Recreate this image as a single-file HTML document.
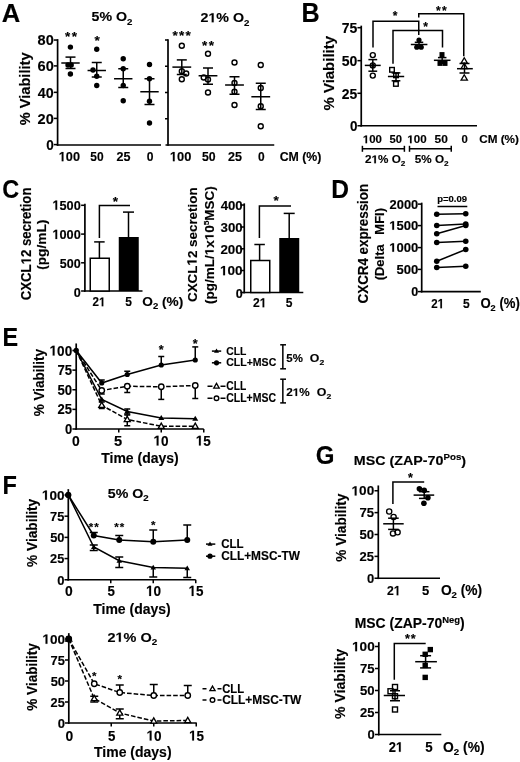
<!DOCTYPE html>
<html><head><meta charset="utf-8"><style>
html,body{margin:0;padding:0;background:#fff;overflow:hidden;}
svg{display:block;will-change:transform;}
text{font-family:"Liberation Sans",sans-serif;font-weight:bold;fill:#000;stroke:#000;stroke-width:0.15px;}
.h{fill-opacity:0;stroke-opacity:0;}
.g1{fill:#000;stroke:#000;}
</style></head><body>
<svg width="520" height="762" viewBox="0 0 520 762" stroke="#000">
<defs><filter id="bl" x="0" y="0" width="1" height="1"><feGaussianBlur stdDeviation="0.3"/></filter></defs>
<g filter="url(#bl)">
<rect width="520" height="762" fill="#fff" stroke="none"/>
<text transform="translate(1.71 21.55) scale(0.9854 1)" font-size="26.02">A</text>
<text transform="translate(91.61 21.45) scale(1.1099 1)" font-size="12.79">5% O<tspan font-size="8.70" dy="3.5">2</tspan></text>
<g transform="translate(200.46 22.35) scale(1.0663 1)"><text font-size="13.37">2<tspan class="h">1</tspan>% O<tspan font-size="9.09" dy="3.5">2</tspan></text><path class="g1" transform="translate(7.44 0) scale(0.00653 -0.00653)" stroke-width="23.0" d="M478 0L478 1170L140 959L140 1180L493 1409L759 1409L759 0Z"/></g>
<text transform="translate(29.80 125.21) rotate(-90) scale(0.9868 1)" font-size="14.80">% Viability</text>
<line x1="57.60" y1="39.15" x2="57.60" y2="145.85" stroke-width="1.7"/>
<line x1="53.80" y1="40.05" x2="57.60" y2="40.05" stroke-width="1.53"/>
<line x1="53.80" y1="65.90" x2="57.60" y2="65.90" stroke-width="1.53"/>
<line x1="53.80" y1="92.35" x2="57.60" y2="92.35" stroke-width="1.53"/>
<line x1="53.80" y1="118.40" x2="57.60" y2="118.40" stroke-width="1.53"/>
<line x1="53.80" y1="144.60" x2="57.60" y2="144.60" stroke-width="1.53"/>
<text transform="translate(37.59 45.35) scale(0.9435 1)" font-size="15.40">80</text>
<text transform="translate(37.52 71.15) scale(0.9479 1)" font-size="15.40">60</text>
<text transform="translate(37.83 97.65) scale(0.9287 1)" font-size="15.40">40</text>
<text transform="translate(37.55 123.55) scale(0.9462 1)" font-size="15.40">20</text>
<text transform="translate(46.16 150.05) scale(0.8809 1)" font-size="15.40">0</text>
<line x1="56.75" y1="145.00" x2="161.00" y2="145.00" stroke-width="1.7"/>
<g transform="translate(58.75 161.15) scale(0.9581 1)"><text font-size="13.28"><tspan class="h">1</tspan>00</text><path class="g1" transform="translate(0.00 0) scale(0.00648 -0.00648)" stroke-width="23.1" d="M478 0L478 1170L140 959L140 1180L493 1409L759 1409L759 0Z"/></g>
<text transform="translate(90.28 161.15) scale(0.9012 1)" font-size="13.28">50</text>
<text transform="translate(116.61 161.15) scale(0.9470 1)" font-size="13.28">25</text>
<text transform="translate(146.87 161.15) scale(0.9106 1)" font-size="13.28">0</text>
<g transform="translate(169.89 161.15) scale(0.9701 1)"><text font-size="13.28"><tspan class="h">1</tspan>00</text><path class="g1" transform="translate(0.00 0) scale(0.00648 -0.00648)" stroke-width="23.1" d="M478 0L478 1170L140 959L140 1180L493 1409L759 1409L759 0Z"/></g>
<text transform="translate(201.97 161.15) scale(0.9265 1)" font-size="13.28">50</text>
<text transform="translate(227.96 161.15) scale(0.9470 1)" font-size="13.28">25</text>
<text transform="translate(257.93 161.15) scale(0.9027 1)" font-size="13.28">0</text>
<text transform="translate(279.64 161.10) scale(0.9596 1)" font-size="12.86">CM (%)</text>
<circle cx="70.40" cy="47.10" r="2.7" fill="#000" stroke="none"/>
<circle cx="68.00" cy="65.00" r="2.7" fill="#000" stroke="none"/>
<circle cx="71.20" cy="65.00" r="2.7" fill="#000" stroke="none"/>
<circle cx="70.40" cy="74.00" r="2.7" fill="#000" stroke="none"/>
<line x1="61.30" y1="63.00" x2="79.70" y2="63.00" stroke-width="1.5"/>
<line x1="70.50" y1="57.10" x2="70.50" y2="68.50" stroke-width="1.5"/>
<line x1="65.50" y1="57.10" x2="75.50" y2="57.10" stroke-width="1.5"/>
<line x1="65.50" y1="68.50" x2="75.50" y2="68.50" stroke-width="1.5"/>
<circle cx="96.75" cy="49.25" r="2.7" fill="#000" stroke="none"/>
<circle cx="93.00" cy="70.00" r="2.7" fill="#000" stroke="none"/>
<circle cx="96.75" cy="76.25" r="2.7" fill="#000" stroke="none"/>
<circle cx="96.75" cy="85.50" r="2.7" fill="#000" stroke="none"/>
<line x1="87.55" y1="70.50" x2="105.95" y2="70.50" stroke-width="1.5"/>
<line x1="96.75" y1="62.50" x2="96.75" y2="77.00" stroke-width="1.5"/>
<line x1="91.75" y1="62.50" x2="101.75" y2="62.50" stroke-width="1.5"/>
<line x1="91.75" y1="77.00" x2="101.75" y2="77.00" stroke-width="1.5"/>
<circle cx="123.25" cy="58.75" r="2.7" fill="#000" stroke="none"/>
<circle cx="123.25" cy="68.75" r="2.7" fill="#000" stroke="none"/>
<circle cx="123.25" cy="85.50" r="2.7" fill="#000" stroke="none"/>
<circle cx="123.25" cy="100.75" r="2.7" fill="#000" stroke="none"/>
<line x1="114.05" y1="78.75" x2="132.45" y2="78.75" stroke-width="1.5"/>
<line x1="123.25" y1="68.75" x2="123.25" y2="87.50" stroke-width="1.5"/>
<line x1="118.25" y1="68.75" x2="128.25" y2="68.75" stroke-width="1.5"/>
<line x1="118.25" y1="87.50" x2="128.25" y2="87.50" stroke-width="1.5"/>
<circle cx="149.50" cy="64.50" r="2.7" fill="#000" stroke="none"/>
<circle cx="149.50" cy="78.75" r="2.7" fill="#000" stroke="none"/>
<circle cx="149.50" cy="101.25" r="2.7" fill="#000" stroke="none"/>
<circle cx="149.50" cy="123.00" r="2.7" fill="#000" stroke="none"/>
<line x1="140.30" y1="91.75" x2="158.70" y2="91.75" stroke-width="1.5"/>
<line x1="149.50" y1="78.75" x2="149.50" y2="104.50" stroke-width="1.5"/>
<line x1="144.50" y1="78.75" x2="154.50" y2="78.75" stroke-width="1.5"/>
<line x1="144.50" y1="104.50" x2="154.50" y2="104.50" stroke-width="1.5"/>
<text x="65.11" y="41.09" font-size="13.5">*</text>
<text x="71.71" y="41.09" font-size="13.5">*</text>
<text x="94.61" y="45.49" font-size="13.5">*</text>
<line x1="168.00" y1="39.15" x2="168.00" y2="145.85" stroke-width="1.7"/>
<line x1="165.00" y1="40.00" x2="168.00" y2="40.00" stroke-width="1.53"/>
<line x1="165.00" y1="66.25" x2="168.00" y2="66.25" stroke-width="1.53"/>
<line x1="165.00" y1="92.50" x2="168.00" y2="92.50" stroke-width="1.53"/>
<line x1="165.00" y1="118.75" x2="168.00" y2="118.75" stroke-width="1.53"/>
<line x1="165.50" y1="145.00" x2="274.25" y2="145.00" stroke-width="1.7"/>
<circle cx="181.80" cy="45.70" r="2.5" fill="none" stroke-width="1.4"/>
<circle cx="181.80" cy="71.20" r="2.5" fill="none" stroke-width="1.4"/>
<circle cx="186.20" cy="73.50" r="2.5" fill="none" stroke-width="1.4"/>
<circle cx="181.80" cy="79.20" r="2.5" fill="none" stroke-width="1.4"/>
<line x1="172.40" y1="67.10" x2="191.20" y2="67.10" stroke-width="1.5"/>
<line x1="181.80" y1="59.90" x2="181.80" y2="74.50" stroke-width="1.5"/>
<line x1="176.80" y1="59.90" x2="186.80" y2="59.90" stroke-width="1.5"/>
<line x1="176.80" y1="74.50" x2="186.80" y2="74.50" stroke-width="1.5"/>
<circle cx="208.00" cy="53.75" r="2.5" fill="none" stroke-width="1.4"/>
<circle cx="203.75" cy="77.50" r="2.5" fill="none" stroke-width="1.4"/>
<circle cx="208.00" cy="79.50" r="2.5" fill="none" stroke-width="1.4"/>
<circle cx="208.00" cy="92.50" r="2.5" fill="none" stroke-width="1.4"/>
<line x1="198.60" y1="75.75" x2="217.40" y2="75.75" stroke-width="1.5"/>
<line x1="208.00" y1="68.00" x2="208.00" y2="84.25" stroke-width="1.5"/>
<line x1="203.00" y1="68.00" x2="213.00" y2="68.00" stroke-width="1.5"/>
<line x1="203.00" y1="84.25" x2="213.00" y2="84.25" stroke-width="1.5"/>
<circle cx="234.50" cy="62.50" r="2.5" fill="none" stroke-width="1.4"/>
<circle cx="234.50" cy="83.00" r="2.5" fill="none" stroke-width="1.4"/>
<circle cx="234.50" cy="91.75" r="2.5" fill="none" stroke-width="1.4"/>
<circle cx="234.50" cy="105.00" r="2.5" fill="none" stroke-width="1.4"/>
<line x1="225.10" y1="85.00" x2="243.90" y2="85.00" stroke-width="1.5"/>
<line x1="234.50" y1="76.75" x2="234.50" y2="94.25" stroke-width="1.5"/>
<line x1="229.50" y1="76.75" x2="239.50" y2="76.75" stroke-width="1.5"/>
<line x1="229.50" y1="94.25" x2="239.50" y2="94.25" stroke-width="1.5"/>
<circle cx="260.75" cy="65.00" r="2.5" fill="none" stroke-width="1.4"/>
<circle cx="260.75" cy="88.00" r="2.5" fill="none" stroke-width="1.4"/>
<circle cx="260.75" cy="106.25" r="2.5" fill="none" stroke-width="1.4"/>
<circle cx="260.75" cy="126.25" r="2.5" fill="none" stroke-width="1.4"/>
<line x1="251.35" y1="96.75" x2="270.15" y2="96.75" stroke-width="1.5"/>
<line x1="260.75" y1="83.25" x2="260.75" y2="109.50" stroke-width="1.5"/>
<line x1="255.75" y1="83.25" x2="265.75" y2="83.25" stroke-width="1.5"/>
<line x1="255.75" y1="109.50" x2="265.75" y2="109.50" stroke-width="1.5"/>
<text x="172.61" y="40.34" font-size="13.5">*</text>
<text x="179.06" y="40.34" font-size="13.5">*</text>
<text x="185.51" y="40.34" font-size="13.5">*</text>
<text x="202.06" y="50.34" font-size="13.5">*</text>
<text x="208.66" y="50.34" font-size="13.5">*</text>
<text transform="translate(301.52 21.55) scale(0.9411 1)" font-size="26.74">B</text>
<text transform="translate(334.30 110.52) rotate(-90) scale(1.0112 1)" font-size="14.80">% Viability</text>
<line x1="361.25" y1="25.65" x2="361.25" y2="126.60" stroke-width="1.7"/>
<line x1="357.45" y1="27.70" x2="361.25" y2="27.70" stroke-width="1.53"/>
<line x1="357.45" y1="60.65" x2="361.25" y2="60.65" stroke-width="1.53"/>
<line x1="357.45" y1="93.30" x2="361.25" y2="93.30" stroke-width="1.53"/>
<line x1="357.45" y1="125.75" x2="361.25" y2="125.75" stroke-width="1.53"/>
<text transform="translate(341.65 32.80) scale(0.9730 1)" font-size="14.41">75</text>
<text transform="translate(341.82 65.75) scale(0.9739 1)" font-size="14.41">50</text>
<text transform="translate(341.77 98.60) scale(0.9653 1)" font-size="14.41">25</text>
<text transform="translate(349.92 131.30) scale(0.9341 1)" font-size="14.41">0</text>
<line x1="360.40" y1="125.75" x2="477.00" y2="125.75" stroke-width="1.7"/>
<g transform="translate(362.83 143.15) scale(1.0254 1)"><text font-size="11.16"><tspan class="h">1</tspan>00</text><path class="g1" transform="translate(0.00 0) scale(0.00545 -0.00545)" stroke-width="27.5" d="M478 0L478 1170L140 959L140 1180L493 1409L759 1409L759 0Z"/></g>
<text transform="translate(389.60 143.15) scale(1.0077 1)" font-size="11.16">50</text>
<g transform="translate(407.32 143.15) scale(1.0369 1)"><text font-size="11.16"><tspan class="h">1</tspan>00</text><path class="g1" transform="translate(0.00 0) scale(0.00545 -0.00545)" stroke-width="27.5" d="M478 0L478 1170L140 959L140 1180L493 1409L759 1409L759 0Z"/></g>
<text transform="translate(434.58 143.15) scale(1.0680 1)" font-size="11.16">50</text>
<text transform="translate(461.50 143.15) scale(1.0176 1)" font-size="11.16">0</text>
<text transform="translate(479.17 143.15) scale(1.0221 1)" font-size="11.48">CM (%)</text>
<line x1="362.40" y1="148.70" x2="404.40" y2="148.70" stroke-width="1.5"/>
<line x1="362.40" y1="145.80" x2="362.40" y2="151.80" stroke-width="1.5"/>
<line x1="404.40" y1="145.80" x2="404.40" y2="151.80" stroke-width="1.5"/>
<line x1="409.50" y1="148.70" x2="451.25" y2="148.70" stroke-width="1.5"/>
<line x1="409.50" y1="145.80" x2="409.50" y2="151.80" stroke-width="1.5"/>
<line x1="451.25" y1="145.80" x2="451.25" y2="151.80" stroke-width="1.5"/>
<g transform="translate(365.04 163.35) scale(1.0192 1)"><text font-size="11.48">2<tspan class="h">1</tspan>% O<tspan font-size="8.04" dy="2.5">2</tspan></text><path class="g1" transform="translate(6.39 0) scale(0.00561 -0.00561)" stroke-width="26.8" d="M478 0L478 1170L140 959L140 1180L493 1409L759 1409L759 0Z"/></g>
<text transform="translate(414.79 163.35) scale(1.0211 1)" font-size="11.48">5% O<tspan font-size="8.04" dy="2.5">2</tspan></text>
<polyline points="373.00,47.50 373.00,21.25 418.75,21.25 418.75,35.00" fill="none" stroke-width="1.5"/>
<text x="392.65" y="19.65" font-size="12">*</text>
<polyline points="393.00,63.75 393.00,30.50 442.50,30.50 442.50,47.50" fill="none" stroke-width="1.5"/>
<text x="423.15" y="30.90" font-size="12">*</text>
<polyline points="418.75,17.50 418.75,13.75 463.75,13.75 463.75,56.25" fill="none" stroke-width="1.5"/>
<text x="435.90" y="14.65" font-size="12">*</text>
<text x="441.90" y="14.65" font-size="12">*</text>
<circle cx="372.80" cy="55.10" r="2.5" fill="none" stroke-width="1.4"/>
<circle cx="372.80" cy="65.40" r="2.5" fill="none" stroke-width="1.4"/>
<circle cx="372.80" cy="75.60" r="2.5" fill="none" stroke-width="1.4"/>
<circle cx="372.80" cy="65.40" r="1.6" fill="#000" stroke="none"/>
<line x1="364.80" y1="65.40" x2="380.70" y2="65.40" stroke-width="1.5"/>
<line x1="372.80" y1="59.60" x2="372.80" y2="71.20" stroke-width="1.5"/>
<line x1="368.40" y1="59.60" x2="377.20" y2="59.60" stroke-width="1.5"/>
<line x1="368.40" y1="71.20" x2="377.20" y2="71.20" stroke-width="1.5"/>
<rect x="389.70" y="67.50" width="4.6" height="4.6" fill="none" stroke-width="1.4"/>
<rect x="393.70" y="73.00" width="4.6" height="4.6" fill="none" stroke-width="1.4"/>
<rect x="393.60" y="81.60" width="4.6" height="4.6" fill="none" stroke-width="1.4"/>
<line x1="387.90" y1="76.50" x2="404.20" y2="76.50" stroke-width="1.5"/>
<line x1="396.00" y1="72.90" x2="396.00" y2="80.80" stroke-width="1.5"/>
<line x1="391.65" y1="72.90" x2="400.35" y2="72.90" stroke-width="1.5"/>
<line x1="391.65" y1="80.80" x2="400.35" y2="80.80" stroke-width="1.5"/>
<circle cx="419.00" cy="40.00" r="2.6" fill="#000" stroke="none"/>
<circle cx="416.80" cy="47.20" r="2.6" fill="#000" stroke="none"/>
<circle cx="421.20" cy="47.20" r="2.6" fill="#000" stroke="none"/>
<line x1="410.80" y1="44.50" x2="427.40" y2="44.50" stroke-width="1.5"/>
<line x1="419.00" y1="42.30" x2="419.00" y2="47.00" stroke-width="1.5"/>
<line x1="414.75" y1="42.30" x2="423.25" y2="42.30" stroke-width="1.5"/>
<line x1="414.75" y1="47.00" x2="423.25" y2="47.00" stroke-width="1.5"/>
<rect x="439.50" y="52.10" width="5.0" height="5.0" fill="#000" stroke="none"/>
<rect x="437.50" y="60.90" width="5.0" height="5.0" fill="#000" stroke="none"/>
<rect x="442.50" y="60.90" width="5.0" height="5.0" fill="#000" stroke="none"/>
<line x1="433.90" y1="60.30" x2="450.50" y2="60.30" stroke-width="1.5"/>
<line x1="442.20" y1="57.60" x2="442.20" y2="63.20" stroke-width="1.5"/>
<line x1="437.95" y1="57.60" x2="446.45" y2="57.60" stroke-width="1.5"/>
<line x1="437.95" y1="63.20" x2="446.45" y2="63.20" stroke-width="1.5"/>
<polygon points="464.25,57.73 467.40,63.18 461.10,63.18" fill="#fff" stroke-width="1.3"/>
<polygon points="464.25,63.23 467.40,68.68 461.10,68.68" fill="#fff" stroke-width="1.3"/>
<polygon points="464.25,74.73 467.40,80.18 461.10,80.18" fill="#fff" stroke-width="1.3"/>
<line x1="457.00" y1="68.70" x2="472.80" y2="68.70" stroke-width="1.5"/>
<line x1="464.50" y1="63.50" x2="464.50" y2="73.00" stroke-width="1.5"/>
<line x1="459.50" y1="63.50" x2="469.50" y2="63.50" stroke-width="1.5"/>
<line x1="459.50" y1="73.00" x2="469.50" y2="73.00" stroke-width="1.5"/>
<text transform="translate(2.29 197.55) scale(0.9286 1)" font-size="25.28">C</text>
<g transform="translate(30.90 300.29) rotate(-90) scale(0.9487 1)"><text font-size="13.90">CXCL<tspan class="h">1</tspan>2 secretion</text><path class="g1" transform="translate(37.84 0) scale(0.00679 -0.00679)" stroke-width="22.1" d="M478 0L478 1170L140 959L140 1180L493 1409L759 1409L759 0Z"/></g>
<text transform="translate(45.80 269.83) rotate(-90) scale(1.0389 1)" font-size="13.20">(pg/mL)</text>
<line x1="84.90" y1="203.75" x2="84.90" y2="291.85" stroke-width="1.7"/>
<line x1="81.10" y1="205.30" x2="84.90" y2="205.30" stroke-width="1.53"/>
<line x1="81.10" y1="234.10" x2="84.90" y2="234.10" stroke-width="1.53"/>
<line x1="81.10" y1="262.80" x2="84.90" y2="262.80" stroke-width="1.53"/>
<line x1="81.10" y1="291.00" x2="84.90" y2="291.00" stroke-width="1.53"/>
<g transform="translate(52.45 209.85) scale(0.9489 1)"><text font-size="13.42"><tspan class="h">1</tspan>500</text><path class="g1" transform="translate(0.00 0) scale(0.00655 -0.00655)" stroke-width="22.9" d="M478 0L478 1170L140 959L140 1180L493 1409L759 1409L759 0Z"/></g>
<g transform="translate(52.45 239.10) scale(0.9489 1)"><text font-size="13.42"><tspan class="h">1</tspan>000</text><path class="g1" transform="translate(0.00 0) scale(0.00655 -0.00655)" stroke-width="22.9" d="M478 0L478 1170L140 959L140 1180L493 1409L759 1409L759 0Z"/></g>
<text transform="translate(59.86 267.65) scale(0.9335 1)" font-size="13.42">500</text>
<text transform="translate(73.75 296.75) scale(0.9402 1)" font-size="13.42">0</text>
<line x1="84.00" y1="291.00" x2="142.50" y2="291.00" stroke-width="1.7"/>
<rect x="90.25" y="258.25" width="19" height="32.75" fill="#fff" stroke-width="1.5"/>
<rect x="118.75" y="237" width="20" height="54" fill="#000" stroke="none"/>
<line x1="99.40" y1="258.25" x2="99.40" y2="241.90" stroke-width="1.5"/>
<line x1="94.15" y1="241.90" x2="104.65" y2="241.90" stroke-width="1.5"/>
<line x1="128.50" y1="237.00" x2="128.50" y2="212.10" stroke-width="1.5"/>
<line x1="123.00" y1="212.10" x2="134.00" y2="212.10" stroke-width="1.5"/>
<polyline points="99.40,238.10 99.40,205.60 130.00,205.60" fill="none" stroke-width="1.5"/>
<text x="112.86" y="205.89" font-size="13.5">*</text>
<g transform="translate(92.55 306.25) scale(0.9245 1)"><text font-size="12.57">2<tspan class="h">1</tspan></text><path class="g1" transform="translate(6.99 0) scale(0.00614 -0.00614)" stroke-width="24.4" d="M478 0L478 1170L140 959L140 1180L493 1409L759 1409L759 0Z"/></g>
<text transform="translate(125.18 306.25) scale(0.9593 1)" font-size="12.57">5</text>
<text transform="translate(142.29 306.25) scale(1.0549 1)" font-size="12.94">O<tspan font-size="9.06" dy="3">2</tspan><tspan font-size="12.94" dy="-3"> (%)</tspan></text>
<g transform="translate(196.60 302.00) rotate(-90) scale(0.9917 1)"><text font-size="13.50">CXCL<tspan class="h">1</tspan>2 secretion</text><path class="g1" transform="translate(36.75 0) scale(0.00659 -0.00659)" stroke-width="22.8" d="M478 0L478 1170L140 959L140 1180L493 1409L759 1409L759 0Z"/></g>
<g transform="translate(213.60 303.92) rotate(-90) scale(1.1049 1)"><text font-size="12.20">(pg/mL/<tspan class="h">1</tspan>x<tspan class="h">1</tspan>0<tspan font-size="7.56" dy="-5">5</tspan><tspan font-size="12.20" dy="5">MSC)</tspan></text><path class="g1" transform="translate(44.05 0) scale(0.00596 -0.00596)" stroke-width="25.2" d="M478 0L478 1170L140 959L140 1180L493 1409L759 1409L759 0Z"/><path class="g1" transform="translate(57.62 0) scale(0.00596 -0.00596)" stroke-width="25.2" d="M478 0L478 1170L140 959L140 1180L493 1409L759 1409L759 0Z"/></g>
<line x1="244.25" y1="203.35" x2="244.25" y2="293.35" stroke-width="1.7"/>
<line x1="240.45" y1="205.00" x2="244.25" y2="205.00" stroke-width="1.53"/>
<line x1="240.45" y1="227.00" x2="244.25" y2="227.00" stroke-width="1.53"/>
<line x1="240.45" y1="248.75" x2="244.25" y2="248.75" stroke-width="1.53"/>
<line x1="240.45" y1="270.50" x2="244.25" y2="270.50" stroke-width="1.53"/>
<line x1="240.45" y1="292.50" x2="244.25" y2="292.50" stroke-width="1.53"/>
<text transform="translate(220.65 209.75) scale(0.9846 1)" font-size="13.42">400</text>
<text transform="translate(220.55 231.75) scale(0.9894 1)" font-size="13.42">300</text>
<text transform="translate(220.39 253.50) scale(0.9966 1)" font-size="13.42">200</text>
<g transform="translate(219.99 275.25) scale(1.0147 1)"><text font-size="13.42"><tspan class="h">1</tspan>00</text><path class="g1" transform="translate(0.00 0) scale(0.00655 -0.00655)" stroke-width="22.9" d="M478 0L478 1170L140 959L140 1180L493 1409L759 1409L759 0Z"/></g>
<text transform="translate(235.65 297.55) scale(0.9402 1)" font-size="13.42">0</text>
<line x1="243.40" y1="292.50" x2="303.30" y2="292.50" stroke-width="1.7"/>
<rect x="250.75" y="260.5" width="19" height="32" fill="#fff" stroke-width="1.5"/>
<rect x="279.25" y="238" width="20" height="54.5" fill="#000" stroke="none"/>
<line x1="259.60" y1="260.50" x2="259.60" y2="244.50" stroke-width="1.5"/>
<line x1="254.35" y1="244.50" x2="264.85" y2="244.50" stroke-width="1.5"/>
<line x1="289.20" y1="238.00" x2="289.20" y2="213.40" stroke-width="1.5"/>
<line x1="283.70" y1="213.40" x2="294.70" y2="213.40" stroke-width="1.5"/>
<polyline points="259.40,238.00 259.40,206.00 291.00,206.00" fill="none" stroke-width="1.5"/>
<text x="273.61" y="205.39" font-size="13.5">*</text>
<g transform="translate(253.03 307.35) scale(0.9210 1)"><text font-size="13.14">2<tspan class="h">1</tspan></text><path class="g1" transform="translate(7.31 0) scale(0.00641 -0.00641)" stroke-width="23.4" d="M478 0L478 1170L140 959L140 1180L493 1409L759 1409L759 0Z"/></g>
<text transform="translate(285.78 307.35) scale(0.9180 1)" font-size="13.14">5</text>
<text transform="translate(331.30 197.55) scale(0.9570 1)" font-size="25.73">D</text>
<text transform="translate(368.20 303.40) rotate(-90) scale(0.9614 1)" font-size="13.90">CXCR4 expression</text>
<text transform="translate(383.50 280.29) rotate(-90) scale(1.0273 1)" font-size="12.60">(Delta</text>
<text transform="translate(383.50 234.72) rotate(-90) scale(1.0361 1)" font-size="12.60">MFI)</text>
<line x1="421.70" y1="202.65" x2="421.70" y2="292.45" stroke-width="1.7"/>
<line x1="417.90" y1="204.10" x2="421.70" y2="204.10" stroke-width="1.53"/>
<line x1="417.90" y1="225.60" x2="421.70" y2="225.60" stroke-width="1.53"/>
<line x1="417.90" y1="247.60" x2="421.70" y2="247.60" stroke-width="1.53"/>
<line x1="417.90" y1="269.40" x2="421.70" y2="269.40" stroke-width="1.53"/>
<line x1="417.90" y1="291.60" x2="421.70" y2="291.60" stroke-width="1.53"/>
<text transform="translate(389.60 208.75) scale(1.0612 1)" font-size="12.15">2000</text>
<g transform="translate(389.23 229.70) scale(1.0754 1)"><text font-size="12.15"><tspan class="h">1</tspan>500</text><path class="g1" transform="translate(0.00 0) scale(0.00593 -0.00593)" stroke-width="25.3" d="M478 0L478 1170L140 959L140 1180L493 1409L759 1409L759 0Z"/></g>
<g transform="translate(389.23 251.70) scale(1.0754 1)"><text font-size="12.15"><tspan class="h">1</tspan>000</text><path class="g1" transform="translate(0.00 0) scale(0.00593 -0.00593)" stroke-width="25.3" d="M478 0L478 1170L140 959L140 1180L493 1409L759 1409L759 0Z"/></g>
<text transform="translate(396.45 273.50) scale(1.0776 1)" font-size="12.15">500</text>
<text transform="translate(411.25 295.90) scale(1.0386 1)" font-size="12.15">0</text>
<line x1="420.85" y1="291.60" x2="480.80" y2="291.60" stroke-width="1.7"/>
<text transform="translate(437.22 201.75) scale(1.0863 1)" font-size="8.76">p=0.09</text>
<line x1="437.50" y1="206.50" x2="467.30" y2="206.50" stroke-width="1.5"/>
<line x1="436.75" y1="214.25" x2="465.75" y2="213.75" stroke-width="1.5"/>
<circle cx="436.75" cy="214.25" r="2.8" fill="#000" stroke="none"/>
<circle cx="465.75" cy="213.75" r="2.8" fill="#000" stroke="none"/>
<line x1="436.75" y1="225.50" x2="465.75" y2="224.00" stroke-width="1.5"/>
<circle cx="436.75" cy="225.50" r="2.8" fill="#000" stroke="none"/>
<circle cx="465.75" cy="224.00" r="2.8" fill="#000" stroke="none"/>
<line x1="436.75" y1="233.75" x2="465.75" y2="225.50" stroke-width="1.5"/>
<circle cx="436.75" cy="233.75" r="2.8" fill="#000" stroke="none"/>
<circle cx="465.75" cy="225.50" r="2.8" fill="#000" stroke="none"/>
<line x1="436.75" y1="242.50" x2="465.75" y2="241.25" stroke-width="1.5"/>
<circle cx="436.75" cy="242.50" r="2.8" fill="#000" stroke="none"/>
<circle cx="465.75" cy="241.25" r="2.8" fill="#000" stroke="none"/>
<line x1="436.75" y1="261.25" x2="465.75" y2="249.50" stroke-width="1.5"/>
<circle cx="436.75" cy="261.25" r="2.8" fill="#000" stroke="none"/>
<circle cx="465.75" cy="249.50" r="2.8" fill="#000" stroke="none"/>
<line x1="436.75" y1="267.50" x2="465.75" y2="266.25" stroke-width="1.5"/>
<circle cx="436.75" cy="267.50" r="2.8" fill="#000" stroke="none"/>
<circle cx="465.75" cy="266.25" r="2.8" fill="#000" stroke="none"/>
<g transform="translate(431.25 308.25) scale(0.8500 1)"><text font-size="13.56">2<tspan class="h">1</tspan></text><path class="g1" transform="translate(7.54 0) scale(0.00662 -0.00662)" stroke-width="22.7" d="M478 0L478 1170L140 959L140 1180L493 1409L759 1409L759 0Z"/></g>
<text transform="translate(462.98 308.25) scale(0.8893 1)" font-size="13.56">5</text>
<text transform="translate(480.41 308.25) scale(0.9410 1)" font-size="13.95">O<tspan font-size="9.77" dy="3">2</tspan><tspan font-size="13.95" dy="-3"> (%)</tspan></text>
<text transform="translate(2.43 345.75) scale(0.8860 1)" font-size="26.45">E</text>
<text transform="translate(44.00 416.29) rotate(-90) scale(0.9453 1)" font-size="14.30">% Viability</text>
<line x1="76.20" y1="343.45" x2="76.20" y2="429.85" stroke-width="1.7"/>
<line x1="72.40" y1="350.50" x2="76.20" y2="350.50" stroke-width="1.53"/>
<line x1="72.40" y1="370.12" x2="76.20" y2="370.12" stroke-width="1.53"/>
<line x1="72.40" y1="389.75" x2="76.20" y2="389.75" stroke-width="1.53"/>
<line x1="72.40" y1="409.38" x2="76.20" y2="409.38" stroke-width="1.53"/>
<line x1="72.40" y1="429.00" x2="76.20" y2="429.00" stroke-width="1.53"/>
<g transform="translate(49.54 355.55) scale(0.9522 1)"><text font-size="14.27"><tspan class="h">1</tspan>00</text><path class="g1" transform="translate(0.00 0) scale(0.00697 -0.00697)" stroke-width="21.5" d="M478 0L478 1170L140 959L140 1180L493 1409L759 1409L759 0Z"/></g>
<text transform="translate(57.38 375.18) scale(0.9221 1)" font-size="14.27">75</text>
<text transform="translate(57.54 394.80) scale(0.9230 1)" font-size="14.27">50</text>
<text transform="translate(57.50 414.43) scale(0.9148 1)" font-size="14.27">25</text>
<text transform="translate(64.93 434.05) scale(0.9138 1)" font-size="14.27">0</text>
<line x1="75.35" y1="429.00" x2="203.75" y2="429.00" stroke-width="1.7"/>
<line x1="118.75" y1="429.00" x2="118.75" y2="432.50" stroke-width="1.53"/>
<line x1="161.25" y1="429.00" x2="161.25" y2="432.50" stroke-width="1.53"/>
<line x1="203.75" y1="429.00" x2="203.75" y2="432.50" stroke-width="1.53"/>
<text transform="translate(71.90 445.55) scale(0.9728 1)" font-size="14.27">0</text>
<text transform="translate(114.00 445.55) scale(1.0285 1)" font-size="14.27">5</text>
<g transform="translate(153.49 445.55) scale(0.9525 1)"><text font-size="14.27"><tspan class="h">1</tspan>0</text><path class="g1" transform="translate(0.00 0) scale(0.00697 -0.00697)" stroke-width="21.5" d="M478 0L478 1170L140 959L140 1180L493 1409L759 1409L759 0Z"/></g>
<g transform="translate(195.81 445.55) scale(0.9402 1)"><text font-size="14.27"><tspan class="h">1</tspan>5</text><path class="g1" transform="translate(0.00 0) scale(0.00697 -0.00697)" stroke-width="21.5" d="M478 0L478 1170L140 959L140 1180L493 1409L759 1409L759 0Z"/></g>
<text transform="translate(101.19 463.30) scale(0.9639 1)" font-size="14.53">Time (days)</text>
<polyline points="76.25,350.50 101.75,405.25 127.25,419.50 161.25,426.25 195.25,426.25" fill="none" stroke-width="1.5" stroke-dasharray="4.6,2.0"/>
<polyline points="76.25,350.50 101.75,390.50 127.25,386.25 161.25,386.75 195.25,385.50" fill="none" stroke-width="1.5" stroke-dasharray="4.6,2.0"/>
<polyline points="76.25,350.50 101.75,399.50 127.25,411.50 161.25,418.00 195.25,418.75" fill="none" stroke-width="1.5"/>
<polyline points="76.25,350.50 101.75,383.00 127.25,374.50 161.25,365.00 195.25,360.00" fill="none" stroke-width="1.5"/>
<line x1="101.75" y1="383.00" x2="101.75" y2="380.00" stroke-width="1.5"/>
<line x1="98.75" y1="380.00" x2="104.75" y2="380.00" stroke-width="1.5"/>
<line x1="127.25" y1="374.50" x2="127.25" y2="371.25" stroke-width="1.5"/>
<line x1="124.25" y1="371.25" x2="130.25" y2="371.25" stroke-width="1.5"/>
<line x1="161.25" y1="365.00" x2="161.25" y2="356.50" stroke-width="1.5"/>
<line x1="158.25" y1="356.50" x2="164.25" y2="356.50" stroke-width="1.5"/>
<line x1="195.25" y1="360.00" x2="195.25" y2="346.90" stroke-width="1.5"/>
<line x1="192.25" y1="346.90" x2="198.25" y2="346.90" stroke-width="1.5"/>
<line x1="127.25" y1="386.25" x2="127.25" y2="392.50" stroke-width="1.5"/>
<line x1="124.25" y1="392.50" x2="130.25" y2="392.50" stroke-width="1.5"/>
<line x1="161.25" y1="386.50" x2="161.25" y2="399.40" stroke-width="1.5"/>
<line x1="158.25" y1="399.40" x2="164.25" y2="399.40" stroke-width="1.5"/>
<line x1="195.25" y1="385.60" x2="195.25" y2="398.50" stroke-width="1.5"/>
<line x1="192.25" y1="398.50" x2="198.25" y2="398.50" stroke-width="1.5"/>
<line x1="101.75" y1="390.50" x2="101.75" y2="394.00" stroke-width="1.5"/>
<line x1="98.75" y1="394.00" x2="104.75" y2="394.00" stroke-width="1.5"/>
<line x1="101.75" y1="402.00" x2="101.75" y2="408.50" stroke-width="1.5"/>
<line x1="98.75" y1="402.00" x2="104.75" y2="402.00" stroke-width="1.5"/>
<line x1="98.75" y1="408.50" x2="104.75" y2="408.50" stroke-width="1.5"/>
<line x1="127.25" y1="415.00" x2="127.25" y2="425.75" stroke-width="1.5"/>
<line x1="124.25" y1="415.00" x2="130.25" y2="415.00" stroke-width="1.5"/>
<line x1="124.25" y1="425.75" x2="130.25" y2="425.75" stroke-width="1.5"/>
<line x1="127.25" y1="409.00" x2="127.25" y2="414.00" stroke-width="1.5"/>
<line x1="124.25" y1="409.00" x2="130.25" y2="409.00" stroke-width="1.5"/>
<line x1="124.25" y1="414.00" x2="130.25" y2="414.00" stroke-width="1.5"/>
<polygon points="101.75,402.13 104.75,407.33 98.75,407.33" fill="#fff" stroke-width="1.3"/>
<polygon points="127.25,416.38 130.25,421.58 124.25,421.58" fill="#fff" stroke-width="1.3"/>
<polygon points="161.25,423.13 164.25,428.33 158.25,428.33" fill="#fff" stroke-width="1.3"/>
<polygon points="195.25,423.13 198.25,428.33 192.25,428.33" fill="#fff" stroke-width="1.3"/>
<circle cx="101.75" cy="390.50" r="2.7" fill="#fff" stroke-width="1.4"/>
<circle cx="127.25" cy="386.25" r="2.7" fill="#fff" stroke-width="1.4"/>
<circle cx="161.25" cy="386.75" r="2.7" fill="#fff" stroke-width="1.4"/>
<circle cx="195.25" cy="385.50" r="2.7" fill="#fff" stroke-width="1.4"/>
<polygon points="101.75,396.38 104.75,401.58 98.75,401.58" fill="#000" stroke="none"/>
<polygon points="127.25,408.38 130.25,413.58 124.25,413.58" fill="#000" stroke="none"/>
<polygon points="161.25,414.88 164.25,420.08 158.25,420.08" fill="#000" stroke="none"/>
<polygon points="195.25,415.63 198.25,420.83 192.25,420.83" fill="#000" stroke="none"/>
<circle cx="101.75" cy="383.00" r="2.6" fill="#000" stroke="none"/>
<circle cx="127.25" cy="374.50" r="2.6" fill="#000" stroke="none"/>
<circle cx="161.25" cy="365.00" r="2.6" fill="#000" stroke="none"/>
<circle cx="195.25" cy="360.00" r="2.6" fill="#000" stroke="none"/>
<circle cx="76.20" cy="350.50" r="2.7" fill="#000" stroke="none"/>
<text x="158.81" y="354.25" font-size="12.5">*</text>
<text x="192.81" y="347.65" font-size="12.5">*</text>
<line x1="211.90" y1="351.10" x2="221.20" y2="351.10" stroke-width="1.5"/>
<polygon points="216.50,348.50 219.00,352.83 214.00,352.83" fill="#000" stroke="none"/>
<line x1="211.90" y1="362.80" x2="221.20" y2="362.80" stroke-width="1.5"/>
<circle cx="216.50" cy="362.80" r="2.6" fill="#000" stroke="none"/>
<line x1="207.50" y1="386.25" x2="212.50" y2="386.25" stroke-width="1.5"/>
<line x1="220.50" y1="386.25" x2="225.50" y2="386.25" stroke-width="1.5"/>
<polygon points="216.50,383.39 219.25,388.16 213.75,388.16" fill="#fff" stroke-width="1.3"/>
<line x1="207.50" y1="398.25" x2="212.50" y2="398.25" stroke-width="1.5"/>
<line x1="220.50" y1="398.25" x2="225.50" y2="398.25" stroke-width="1.5"/>
<circle cx="216.50" cy="398.25" r="2.3" fill="none" stroke-width="1.4"/>
<text transform="translate(226.22 354.85) scale(0.9635 1)" font-size="10.76">CLL</text>
<text transform="translate(226.22 366.15) scale(1.0062 1)" font-size="10.47">CLL+MSC</text>
<text transform="translate(226.23 390.35) scale(0.8501 1)" font-size="12.06">CLL</text>
<text transform="translate(226.22 402.35) scale(0.8711 1)" font-size="12.06">CLL+MSC</text>
<line x1="282.85" y1="344.80" x2="282.85" y2="368.80" stroke-width="1.5"/>
<line x1="280.20" y1="344.80" x2="286.00" y2="344.80" stroke-width="1.5"/>
<line x1="280.20" y1="368.80" x2="286.00" y2="368.80" stroke-width="1.5"/>
<line x1="282.85" y1="379.20" x2="282.85" y2="402.90" stroke-width="1.5"/>
<line x1="280.20" y1="379.20" x2="286.00" y2="379.20" stroke-width="1.5"/>
<line x1="280.20" y1="402.90" x2="286.00" y2="402.90" stroke-width="1.5"/>
<text transform="translate(286.30 361.85) scale(1.0649 1)" font-size="10.76">5%</text>
<text transform="translate(309.85 361.85) scale(1.1430 1)" font-size="10.76">O<tspan font-size="7.53" dy="3">2</tspan></text>
<g transform="translate(286.24 395.95) scale(1.0924 1)"><text font-size="10.76">2<tspan class="h">1</tspan>%</text><path class="g1" transform="translate(5.98 0) scale(0.00525 -0.00525)" stroke-width="28.6" d="M478 0L478 1170L140 959L140 1180L493 1409L759 1409L759 0Z"/></g>
<text transform="translate(316.74 395.95) scale(1.1515 1)" font-size="10.76">O<tspan font-size="7.53" dy="3">2</tspan></text>
<text transform="translate(2.42 494.05) scale(0.8904 1)" font-size="26.45">F</text>
<text transform="translate(36.90 566.89) rotate(-90) scale(0.9369 1)" font-size="14.60">% Viability</text>
<line x1="68.30" y1="489.15" x2="68.30" y2="580.60" stroke-width="1.7"/>
<line x1="64.50" y1="495.00" x2="68.30" y2="495.00" stroke-width="1.53"/>
<line x1="64.50" y1="516.19" x2="68.30" y2="516.19" stroke-width="1.53"/>
<line x1="64.50" y1="537.38" x2="68.30" y2="537.38" stroke-width="1.53"/>
<line x1="64.50" y1="558.56" x2="68.30" y2="558.56" stroke-width="1.53"/>
<line x1="64.50" y1="579.75" x2="68.30" y2="579.75" stroke-width="1.53"/>
<g transform="translate(41.90 499.75) scale(1.0099 1)"><text font-size="13.42"><tspan class="h">1</tspan>00</text><path class="g1" transform="translate(0.00 0) scale(0.00655 -0.00655)" stroke-width="22.9" d="M478 0L478 1170L140 959L140 1180L493 1409L759 1409L759 0Z"/></g>
<text transform="translate(50.00 520.94) scale(0.9589 1)" font-size="13.42">75</text>
<text transform="translate(50.15 542.12) scale(0.9598 1)" font-size="13.42">50</text>
<text transform="translate(50.11 563.31) scale(0.9513 1)" font-size="13.42">25</text>
<text transform="translate(57.23 584.50) scale(0.9716 1)" font-size="13.42">0</text>
<line x1="67.45" y1="579.75" x2="195.75" y2="579.75" stroke-width="1.7"/>
<line x1="110.75" y1="579.75" x2="110.75" y2="583.25" stroke-width="1.53"/>
<line x1="153.25" y1="579.75" x2="153.25" y2="583.25" stroke-width="1.53"/>
<line x1="195.75" y1="579.75" x2="195.75" y2="583.25" stroke-width="1.53"/>
<text transform="translate(64.90 595.95) scale(0.9447 1)" font-size="14.69">0</text>
<text transform="translate(107.54 595.95) scale(0.9030 1)" font-size="14.69">5</text>
<g transform="translate(146.04 595.95) scale(0.9250 1)"><text font-size="14.69"><tspan class="h">1</tspan>0</text><path class="g1" transform="translate(0.00 0) scale(0.00717 -0.00717)" stroke-width="20.9" d="M478 0L478 1170L140 959L140 1180L493 1409L759 1409L759 0Z"/></g>
<g transform="translate(188.56 595.95) scale(0.9130 1)"><text font-size="14.69"><tspan class="h">1</tspan>5</text><path class="g1" transform="translate(0.00 0) scale(0.00717 -0.00717)" stroke-width="20.9" d="M478 0L478 1170L140 959L140 1180L493 1409L759 1409L759 0Z"/></g>
<text transform="translate(93.19 613.55) scale(0.9736 1)" font-size="14.39">Time (days)</text>
<text transform="translate(107.81 497.65) scale(1.1240 1)" font-size="12.65">5% O<tspan font-size="8.60" dy="3.5">2</tspan></text>
<polyline points="68.25,495.00 93.75,547.00 119.25,560.75 153.25,567.50 187.25,568.25" fill="none" stroke-width="1.5"/>
<polyline points="68.25,495.00 93.75,535.50 119.25,540.00 153.25,541.75 187.25,540.00" fill="none" stroke-width="1.5"/>
<line x1="93.75" y1="535.50" x2="93.75" y2="532.50" stroke-width="1.5"/>
<line x1="89.75" y1="532.50" x2="97.75" y2="532.50" stroke-width="1.5"/>
<line x1="119.25" y1="540.00" x2="119.25" y2="535.50" stroke-width="1.5"/>
<line x1="115.25" y1="535.50" x2="123.25" y2="535.50" stroke-width="1.5"/>
<line x1="153.25" y1="541.75" x2="153.25" y2="530.00" stroke-width="1.5"/>
<line x1="149.25" y1="530.00" x2="157.25" y2="530.00" stroke-width="1.5"/>
<line x1="187.25" y1="540.00" x2="187.25" y2="525.00" stroke-width="1.5"/>
<line x1="183.25" y1="525.00" x2="191.25" y2="525.00" stroke-width="1.5"/>
<line x1="93.75" y1="545.00" x2="93.75" y2="550.50" stroke-width="1.5"/>
<line x1="89.75" y1="545.00" x2="97.75" y2="545.00" stroke-width="1.5"/>
<line x1="89.75" y1="550.50" x2="97.75" y2="550.50" stroke-width="1.5"/>
<line x1="119.25" y1="557.00" x2="119.25" y2="567.50" stroke-width="1.5"/>
<line x1="115.25" y1="557.00" x2="123.25" y2="557.00" stroke-width="1.5"/>
<line x1="115.25" y1="567.50" x2="123.25" y2="567.50" stroke-width="1.5"/>
<line x1="153.25" y1="567.50" x2="153.25" y2="577.00" stroke-width="1.5"/>
<line x1="149.25" y1="577.00" x2="157.25" y2="577.00" stroke-width="1.5"/>
<line x1="187.25" y1="568.25" x2="187.25" y2="577.50" stroke-width="1.5"/>
<line x1="183.25" y1="577.50" x2="191.25" y2="577.50" stroke-width="1.5"/>
<polygon points="68.25,492.14 71.00,496.91 65.50,496.91" fill="#000" stroke="none"/>
<polygon points="93.75,544.14 96.50,548.91 91.00,548.91" fill="#000" stroke="none"/>
<polygon points="119.25,557.89 122.00,562.66 116.50,562.66" fill="#000" stroke="none"/>
<polygon points="153.25,564.64 156.00,569.41 150.50,569.41" fill="#000" stroke="none"/>
<polygon points="187.25,565.39 190.00,570.16 184.50,570.16" fill="#000" stroke="none"/>
<circle cx="68.25" cy="495.00" r="3.0" fill="#000" stroke="none"/>
<circle cx="93.75" cy="535.50" r="3.0" fill="#000" stroke="none"/>
<circle cx="119.25" cy="540.00" r="3.0" fill="#000" stroke="none"/>
<circle cx="153.25" cy="541.75" r="3.0" fill="#000" stroke="none"/>
<circle cx="187.25" cy="540.00" r="3.0" fill="#000" stroke="none"/>
<circle cx="68.30" cy="495.00" r="3.0" fill="#000" stroke="none"/>
<text x="88.70" y="530.66" font-size="11.5">*</text>
<text x="94.30" y="530.66" font-size="11.5">*</text>
<text x="114.20" y="530.66" font-size="11.5">*</text>
<text x="119.80" y="530.66" font-size="11.5">*</text>
<text x="151.00" y="529.41" font-size="11.5">*</text>
<line x1="206.00" y1="544.10" x2="215.30" y2="544.10" stroke-width="1.5"/>
<polygon points="210.00,541.50 212.50,545.83 207.50,545.83" fill="#000" stroke="none"/>
<line x1="206.00" y1="556.20" x2="215.30" y2="556.20" stroke-width="1.5"/>
<circle cx="210.00" cy="556.20" r="2.6" fill="#000" stroke="none"/>
<text transform="translate(221.18 547.65) scale(0.9610 1)" font-size="12.01">CLL</text>
<text transform="translate(221.16 560.45) scale(0.9761 1)" font-size="12.15">CLL+MSC-TW</text>
<text transform="translate(36.90 710.69) rotate(-90) scale(0.9286 1)" font-size="14.60">% Viability</text>
<line x1="68.80" y1="633.15" x2="68.80" y2="723.85" stroke-width="1.7"/>
<line x1="65.00" y1="639.00" x2="68.80" y2="639.00" stroke-width="1.53"/>
<line x1="65.00" y1="660.00" x2="68.80" y2="660.00" stroke-width="1.53"/>
<line x1="65.00" y1="681.00" x2="68.80" y2="681.00" stroke-width="1.53"/>
<line x1="65.00" y1="702.00" x2="68.80" y2="702.00" stroke-width="1.53"/>
<line x1="65.00" y1="723.00" x2="68.80" y2="723.00" stroke-width="1.53"/>
<g transform="translate(42.40 643.75) scale(1.0099 1)"><text font-size="13.42"><tspan class="h">1</tspan>00</text><path class="g1" transform="translate(0.00 0) scale(0.00655 -0.00655)" stroke-width="22.9" d="M478 0L478 1170L140 959L140 1180L493 1409L759 1409L759 0Z"/></g>
<text transform="translate(50.50 664.75) scale(0.9589 1)" font-size="13.42">75</text>
<text transform="translate(50.65 685.75) scale(0.9598 1)" font-size="13.42">50</text>
<text transform="translate(50.61 706.75) scale(0.9513 1)" font-size="13.42">25</text>
<text transform="translate(57.73 727.75) scale(0.9716 1)" font-size="13.42">0</text>
<line x1="67.95" y1="723.00" x2="196.75" y2="723.00" stroke-width="1.7"/>
<line x1="111.25" y1="723.00" x2="111.25" y2="726.50" stroke-width="1.53"/>
<line x1="153.75" y1="723.00" x2="153.75" y2="726.50" stroke-width="1.53"/>
<line x1="196.25" y1="723.00" x2="196.25" y2="726.50" stroke-width="1.53"/>
<text transform="translate(65.40 740.55) scale(0.9633 1)" font-size="14.41">0</text>
<text transform="translate(108.04 740.55) scale(0.9207 1)" font-size="14.41">5</text>
<g transform="translate(146.54 740.55) scale(0.9431 1)"><text font-size="14.41"><tspan class="h">1</tspan>0</text><path class="g1" transform="translate(0.00 0) scale(0.00703 -0.00703)" stroke-width="21.3" d="M478 0L478 1170L140 959L140 1180L493 1409L759 1409L759 0Z"/></g>
<g transform="translate(189.06 740.55) scale(0.9309 1)"><text font-size="14.41"><tspan class="h">1</tspan>5</text><path class="g1" transform="translate(0.00 0) scale(0.00703 -0.00703)" stroke-width="21.3" d="M478 0L478 1170L140 959L140 1180L493 1409L759 1409L759 0Z"/></g>
<text transform="translate(93.99 757.35) scale(0.9639 1)" font-size="14.53">Time (days)</text>
<g transform="translate(107.40 641.85) scale(1.0829 1)"><text font-size="13.37">2<tspan class="h">1</tspan>% O<tspan font-size="9.09" dy="3.5">2</tspan></text><path class="g1" transform="translate(7.44 0) scale(0.00653 -0.00653)" stroke-width="23.0" d="M478 0L478 1170L140 959L140 1180L493 1409L759 1409L759 0Z"/></g>
<polyline points="68.75,639.00 94.25,698.50 119.75,713.00 153.75,721.00 187.75,720.50" fill="none" stroke-width="1.5" stroke-dasharray="4.6,2.0"/>
<polyline points="68.75,639.00 94.25,683.75 119.75,692.50 153.75,695.50 187.75,695.50" fill="none" stroke-width="1.5" stroke-dasharray="4.6,2.0"/>
<line x1="119.75" y1="692.50" x2="119.75" y2="685.00" stroke-width="1.5"/>
<line x1="115.75" y1="685.00" x2="123.75" y2="685.00" stroke-width="1.5"/>
<line x1="153.75" y1="695.50" x2="153.75" y2="684.50" stroke-width="1.5"/>
<line x1="149.75" y1="684.50" x2="157.75" y2="684.50" stroke-width="1.5"/>
<line x1="187.75" y1="695.50" x2="187.75" y2="685.50" stroke-width="1.5"/>
<line x1="183.75" y1="685.50" x2="191.75" y2="685.50" stroke-width="1.5"/>
<line x1="94.25" y1="696.25" x2="94.25" y2="702.00" stroke-width="1.5"/>
<line x1="90.25" y1="696.25" x2="98.25" y2="696.25" stroke-width="1.5"/>
<line x1="90.25" y1="702.00" x2="98.25" y2="702.00" stroke-width="1.5"/>
<line x1="119.75" y1="709.00" x2="119.75" y2="718.75" stroke-width="1.5"/>
<line x1="115.75" y1="709.00" x2="123.75" y2="709.00" stroke-width="1.5"/>
<line x1="115.75" y1="718.75" x2="123.75" y2="718.75" stroke-width="1.5"/>
<polygon points="68.75,635.88 71.75,641.08 65.75,641.08" fill="#fff" stroke-width="1.3"/>
<polygon points="94.25,695.38 97.25,700.58 91.25,700.58" fill="#fff" stroke-width="1.3"/>
<polygon points="119.75,709.88 122.75,715.08 116.75,715.08" fill="#fff" stroke-width="1.3"/>
<polygon points="153.75,717.88 156.75,723.08 150.75,723.08" fill="#fff" stroke-width="1.3"/>
<polygon points="187.75,717.38 190.75,722.58 184.75,722.58" fill="#fff" stroke-width="1.3"/>
<circle cx="68.75" cy="639.00" r="2.7" fill="#fff" stroke-width="1.4"/>
<circle cx="94.25" cy="683.75" r="2.7" fill="#fff" stroke-width="1.4"/>
<circle cx="119.75" cy="692.50" r="2.7" fill="#fff" stroke-width="1.4"/>
<circle cx="153.75" cy="695.50" r="2.7" fill="#fff" stroke-width="1.4"/>
<circle cx="187.75" cy="695.50" r="2.7" fill="#fff" stroke-width="1.4"/>
<circle cx="68.80" cy="639.00" r="3.0" fill="#000" stroke="none"/>
<text x="92.00" y="679.86" font-size="11.5">*</text>
<text x="117.50" y="682.96" font-size="11.5">*</text>
<line x1="202.50" y1="688.75" x2="206.50" y2="688.75" stroke-width="1.5"/>
<line x1="217.50" y1="688.75" x2="221.50" y2="688.75" stroke-width="1.5"/>
<polygon points="212.50,686.05 215.10,690.55 209.90,690.55" fill="#fff" stroke-width="1.3"/>
<line x1="202.50" y1="700.00" x2="206.50" y2="700.00" stroke-width="1.5"/>
<line x1="217.50" y1="700.00" x2="221.50" y2="700.00" stroke-width="1.5"/>
<circle cx="212.50" cy="700.00" r="2.3" fill="none" stroke-width="1.4"/>
<text transform="translate(222.19 692.75) scale(0.9388 1)" font-size="12.01">CLL</text>
<text transform="translate(222.16 704.25) scale(0.9939 1)" font-size="12.01">CLL+MSC-TW</text>
<text transform="translate(315.76 463.55) scale(0.9420 1)" font-size="25.56">G</text>
<text transform="translate(353.79 464.95) scale(1.0801 1)" font-size="13.23">MSC (ZAP-70<tspan font-size="8.99" dy="-5">Pos</tspan><tspan font-size="13.23" dy="5">)</tspan></text>
<text transform="translate(345.70 561.79) rotate(-90) scale(0.9242 1)" font-size="14.80">% Viability</text>
<line x1="378.30" y1="485.45" x2="378.30" y2="579.10" stroke-width="1.7"/>
<line x1="374.50" y1="490.75" x2="378.30" y2="490.75" stroke-width="1.53"/>
<line x1="374.50" y1="512.62" x2="378.30" y2="512.62" stroke-width="1.53"/>
<line x1="374.50" y1="534.50" x2="378.30" y2="534.50" stroke-width="1.53"/>
<line x1="374.50" y1="556.38" x2="378.30" y2="556.38" stroke-width="1.53"/>
<line x1="374.50" y1="578.25" x2="378.30" y2="578.25" stroke-width="1.53"/>
<g transform="translate(351.54 495.45) scale(1.0231 1)"><text font-size="13.28"><tspan class="h">1</tspan>00</text><path class="g1" transform="translate(0.00 0) scale(0.00648 -0.00648)" stroke-width="23.1" d="M478 0L478 1170L140 959L140 1180L493 1409L759 1409L759 0Z"/></g>
<text transform="translate(359.38 517.33) scale(0.9908 1)" font-size="13.28">75</text>
<text transform="translate(359.54 539.20) scale(0.9917 1)" font-size="13.28">50</text>
<text transform="translate(359.50 561.08) scale(0.9829 1)" font-size="13.28">25</text>
<text transform="translate(366.93 582.95) scale(0.9819 1)" font-size="13.28">0</text>
<line x1="377.45" y1="578.25" x2="440.00" y2="578.25" stroke-width="1.7"/>
<g transform="translate(387.03 595.35) scale(0.8899 1)"><text font-size="13.70">2<tspan class="h">1</tspan></text><path class="g1" transform="translate(7.62 0) scale(0.00669 -0.00669)" stroke-width="22.4" d="M478 0L478 1170L140 959L140 1180L493 1409L759 1409L759 0Z"/></g>
<text transform="translate(422.05 595.35) scale(0.9535 1)" font-size="13.70">5</text>
<text transform="translate(440.89 595.45) scale(0.9957 1)" font-size="13.81">O<tspan font-size="9.67" dy="3">2</tspan><tspan font-size="13.81" dy="-3"> (%)</tspan></text>
<polyline points="392.90,503.90 392.90,481.90 424.20,481.90" fill="none" stroke-width="1.5"/>
<text x="407.96" y="481.95" font-size="12.5">*</text>
<circle cx="389.20" cy="511.50" r="2.6" fill="none" stroke-width="1.35"/>
<circle cx="393.60" cy="516.90" r="2.6" fill="none" stroke-width="1.35"/>
<circle cx="393.00" cy="533.40" r="2.6" fill="none" stroke-width="1.35"/>
<circle cx="397.60" cy="532.30" r="2.6" fill="none" stroke-width="1.35"/>
<line x1="383.20" y1="523.80" x2="403.70" y2="523.80" stroke-width="1.5"/>
<line x1="393.40" y1="518.20" x2="393.40" y2="529.40" stroke-width="1.5"/>
<line x1="388.10" y1="518.20" x2="398.70" y2="518.20" stroke-width="1.5"/>
<line x1="388.10" y1="529.40" x2="398.70" y2="529.40" stroke-width="1.5"/>
<circle cx="419.40" cy="488.80" r="2.8" fill="#000" stroke="none"/>
<circle cx="424.20" cy="490.30" r="2.8" fill="#000" stroke="none"/>
<circle cx="427.90" cy="497.70" r="2.8" fill="#000" stroke="none"/>
<circle cx="423.90" cy="503.30" r="2.8" fill="#000" stroke="none"/>
<line x1="413.60" y1="495.10" x2="434.20" y2="495.10" stroke-width="1.5"/>
<line x1="424.20" y1="491.70" x2="424.20" y2="498.40" stroke-width="1.5"/>
<line x1="418.95" y1="491.70" x2="429.45" y2="491.70" stroke-width="1.5"/>
<line x1="418.95" y1="498.40" x2="429.45" y2="498.40" stroke-width="1.5"/>
<text transform="translate(354.72 627.55) scale(0.9688 1)" font-size="14.39">MSC (ZAP-70<tspan font-size="9.78" dy="-5">Neg</tspan><tspan font-size="14.39" dy="5">)</tspan></text>
<text transform="translate(345.20 718.90) rotate(-90) scale(0.9474 1)" font-size="14.80">% Viability</text>
<line x1="378.80" y1="642.15" x2="378.80" y2="735.35" stroke-width="1.7"/>
<line x1="375.00" y1="646.50" x2="378.80" y2="646.50" stroke-width="1.53"/>
<line x1="375.00" y1="668.50" x2="378.80" y2="668.50" stroke-width="1.53"/>
<line x1="375.00" y1="690.50" x2="378.80" y2="690.50" stroke-width="1.53"/>
<line x1="375.00" y1="712.50" x2="378.80" y2="712.50" stroke-width="1.53"/>
<line x1="375.00" y1="734.50" x2="378.80" y2="734.50" stroke-width="1.53"/>
<g transform="translate(352.04 651.20) scale(1.0231 1)"><text font-size="13.28"><tspan class="h">1</tspan>00</text><path class="g1" transform="translate(0.00 0) scale(0.00648 -0.00648)" stroke-width="23.1" d="M478 0L478 1170L140 959L140 1180L493 1409L759 1409L759 0Z"/></g>
<text transform="translate(359.88 673.20) scale(0.9908 1)" font-size="13.28">75</text>
<text transform="translate(360.04 695.20) scale(0.9917 1)" font-size="13.28">50</text>
<text transform="translate(360.00 717.20) scale(0.9829 1)" font-size="13.28">25</text>
<text transform="translate(367.43 739.20) scale(0.9819 1)" font-size="13.28">0</text>
<line x1="377.95" y1="734.50" x2="441.30" y2="734.50" stroke-width="1.7"/>
<g transform="translate(388.70 751.85) scale(0.9359 1)"><text font-size="13.84">2<tspan class="h">1</tspan></text><path class="g1" transform="translate(7.70 0) scale(0.00676 -0.00676)" stroke-width="22.2" d="M478 0L478 1170L140 959L140 1180L493 1409L759 1409L759 0Z"/></g>
<text transform="translate(425.14 751.85) scale(0.9583 1)" font-size="13.84">5</text>
<text transform="translate(443.08 751.85) scale(0.9903 1)" font-size="13.95">O<tspan font-size="9.77" dy="3">2</tspan><tspan font-size="13.95" dy="-3"> (%)</tspan></text>
<polyline points="394.30,679.70 394.30,643.50 425.70,643.50" fill="none" stroke-width="1.5"/>
<text x="405.06" y="643.35" font-size="12.5">*</text>
<text x="410.86" y="643.35" font-size="12.5">*</text>
<rect x="392.50" y="684.50" width="5.0" height="5.0" fill="none" stroke-width="1.4"/>
<rect x="388.00" y="688.75" width="5.0" height="5.0" fill="none" stroke-width="1.4"/>
<rect x="392.50" y="693.75" width="5.0" height="5.0" fill="none" stroke-width="1.4"/>
<rect x="392.50" y="707.00" width="5.0" height="5.0" fill="none" stroke-width="1.4"/>
<line x1="383.75" y1="695.50" x2="405.00" y2="695.50" stroke-width="1.5"/>
<line x1="395.00" y1="690.75" x2="395.00" y2="700.75" stroke-width="1.5"/>
<line x1="390.00" y1="690.75" x2="400.00" y2="690.75" stroke-width="1.5"/>
<line x1="390.00" y1="700.75" x2="400.00" y2="700.75" stroke-width="1.5"/>
<rect x="427.60" y="646.90" width="5.4" height="5.4" fill="#000" stroke="none"/>
<rect x="422.50" y="651.60" width="5.4" height="5.4" fill="#000" stroke="none"/>
<rect x="422.50" y="662.70" width="5.4" height="5.4" fill="#000" stroke="none"/>
<rect x="422.50" y="674.70" width="5.4" height="5.4" fill="#000" stroke="none"/>
<line x1="415.20" y1="661.70" x2="436.90" y2="661.70" stroke-width="1.5"/>
<line x1="425.60" y1="655.70" x2="425.60" y2="667.90" stroke-width="1.5"/>
<line x1="420.10" y1="655.70" x2="431.10" y2="655.70" stroke-width="1.5"/>
<line x1="420.10" y1="667.90" x2="431.10" y2="667.90" stroke-width="1.5"/>
</g>
</svg></body></html>
